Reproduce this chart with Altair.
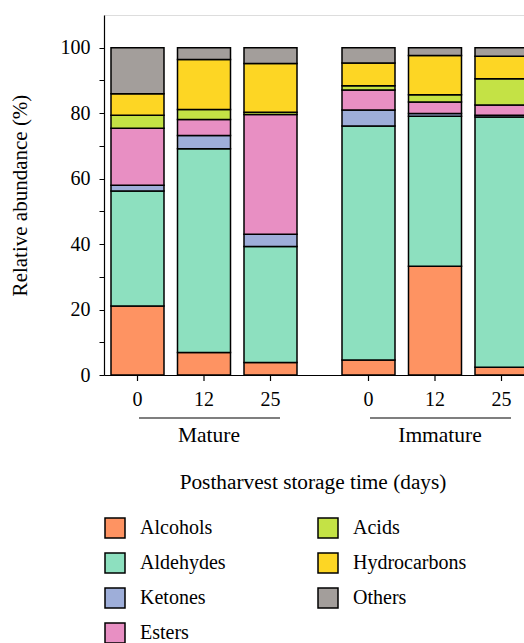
import altair as alt
import pandas as pd

groups = ["Mature", "Immature"]
days = ["0", "12", "25"]
categories = ["Alcohols", "Aldehydes", "Ketones", "Esters", "Acids", "Hydrocarbons", "Others"]
colors = ["#FE9362", "#8DE0BF", "#9EAED9", "#E88FC3", "#C4E245", "#FDD624", "#A39E9B"]

# values per category, columns: Mature 0,12,25 then Immature 0,12,25
alcohols = [21.1, 6.9, 3.8, 4.6, 33.2, 2.4]
aldehydes = [35.1, 62.2, 35.5, 71.5, 45.9, 76.4]
ketones = [1.8, 4.1, 3.7, 4.9, 0.8, 0.6]
esters = [17.4, 4.9, 36.6, 6.1, 3.5, 3.1]
acids = [4.0, 3.0, 0.7, 1.3, 2.2, 8.0]
hydrocarbons = [6.5, 15.3, 14.9, 6.9, 12.0, 6.9]
others = [14.1, 3.6, 4.8, 4.7, 2.4, 2.6]

series = [alcohols, aldehydes, ketones, esters, acids, hydrocarbons, others]
rows = []
for ci, (cat, vals) in enumerate(zip(categories, series)):
    for k, v in enumerate(vals):
        rows.append({"group": groups[k // 3], "day": days[k % 3],
                     "category": cat, "order": ci, "value": v})
df = pd.DataFrame(rows)

FONT = "Liberation Serif"
H = 360
W = 420          # visible plot width (window edge)
RANGE = 431      # full extent of the x band scale (last bar runs past the window)

xenc = alt.X("group:N", sort=groups,
             scale=alt.Scale(range=[0, RANGE], paddingInner=0.1948, paddingOuter=0.0303),
             axis=alt.Axis(title=None, labels=False, ticks=False, grid=False,
                           domainColor="black", domainWidth=1.2))
xoff = alt.XOffset("day:N", sort=days, scale=alt.Scale(paddingInner=0.203, paddingOuter=0))

base = alt.Chart(df)

bars = base.mark_bar(stroke="black", strokeWidth=1.5).encode(
    x=xenc,
    xOffset=xoff,
    y=alt.Y("value:Q", stack="zero", scale=alt.Scale(domain=[0, 110], nice=False),
            axis=alt.Axis(title="Relative abundance (%)", values=list(range(0, 101, 10)),
                          labelExpr="datum.value % 20 == 0 ? datum.label : ''",
                          grid=False, tickSize=5, labelPadding=9, titlePadding=30,
                          domainColor="black", tickColor="black", domainWidth=1.2,
                          labelFont=FONT, labelFontSize=20, labelColor="black",
                          titleFont=FONT, titleFontSize=21, titleFontWeight="normal",
                          titleColor="black")),
    color=alt.Color("category:N",
                    scale=alt.Scale(domain=categories, range=colors),
                    legend=alt.Legend(title=None, orient="none", legendX=0, legendY=502,
                                      columns=2, symbolType="square", symbolSize=400,
                                      symbolStrokeColor="black", symbolStrokeWidth=1.5,
                                      symbolOpacity=1,
                                      labelFont=FONT, labelFontSize=20, labelColor="black",
                                      labelOffset=14, rowPadding=9, columnPadding=89)),
    order=alt.Order("order:Q"),
)

one = base.transform_filter(alt.datum.category == "Alcohols")

ticks = one.mark_rule(color="black", strokeWidth=1.2).encode(
    x=alt.X("group:N", sort=groups), xOffset=alt.XOffset("day:N", sort=days),
    y=alt.value(H), y2=alt.value(H + 6))

ticklabels = one.mark_text(font=FONT, fontSize=20, color="black", baseline="middle",
                           align="center").encode(
    x=alt.X("group:N", sort=groups), xOffset=alt.XOffset("day:N", sort=days),
    text="day:N", y=alt.value(H + 25))

grp = one.transform_filter(alt.datum.day == "12")

glines = grp.mark_rule(color="black", strokeWidth=1.2, xOffset=-65, x2Offset=76).encode(
    x=alt.X("group:N", sort=groups), x2=alt.X2("group"), y=alt.value(H + 43))

glabels = grp.mark_text(font=FONT, fontSize=21.5, color="black", baseline="middle",
                        align="center", dx=5).encode(
    x=alt.X("group:N", sort=groups), text="group:N", y=alt.value(H + 61))

xtitle = alt.Chart(pd.DataFrame({"t": ["Postharvest storage time (days)"]})).mark_text(
    font=FONT, fontSize=21.3, color="black", baseline="middle", align="center").encode(
    text="t:N", x=alt.value(209), y=alt.value(H + 108))

chart = alt.layer(bars, ticks, ticklabels, glines, glabels, xtitle).properties(
    width=W, height=H,
    autosize=alt.AutoSizeParams(type="none"),
    padding={"left": 104, "top": 15, "right": 0, "bottom": 268},
).configure_view(stroke=None).configure_axis(grid=False).configure(background="white")

chart.save("out.html", embed_options={"renderer": "svg", "actions": False})
